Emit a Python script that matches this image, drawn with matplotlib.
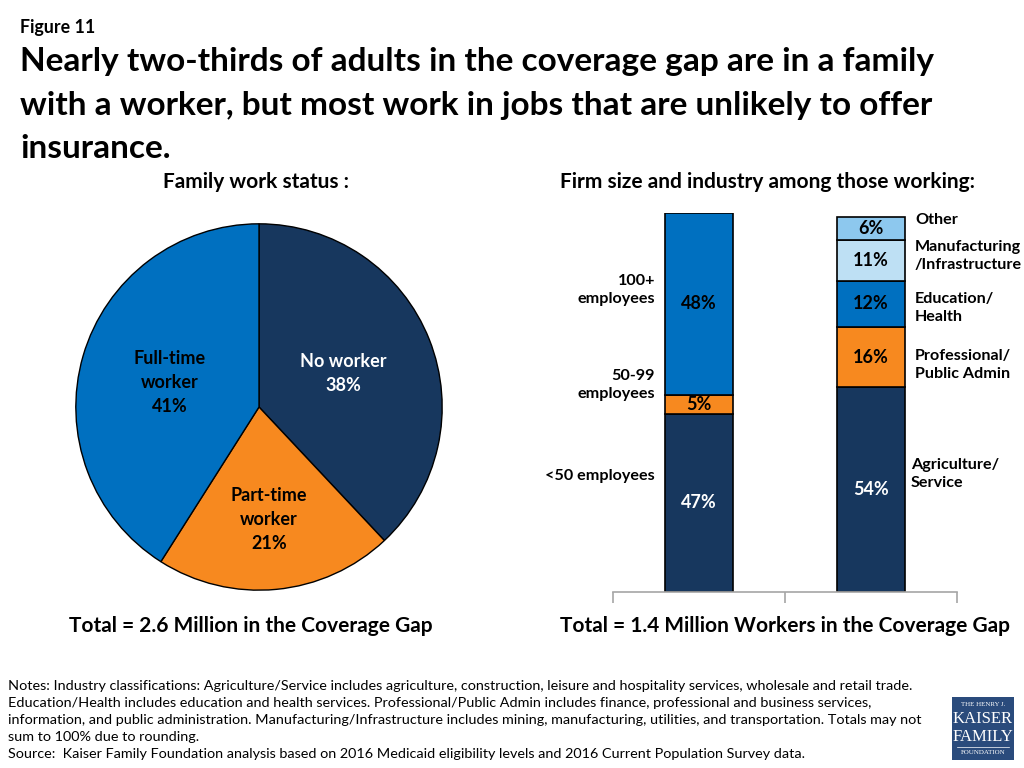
import matplotlib
matplotlib.use("Agg")
import matplotlib.pyplot as plt
from matplotlib.patches import Rectangle

plt.rcParams['font.family'] = ['Lato', 'DejaVu Sans']

# ---- data ----
pie_labels = ["No worker", "Part-time\nworker", "Full-time\nworker"]
pie_values = [38, 21, 41]

bar_categories = ["Firm size", "Industry"]
firm_labels = ["<50 employees", "50-99\nemployees", "100+\nemployees"]
firm_values = [47, 5, 48]
industry_labels = ["Agriculture/\nService", "Professional/\nPublic Admin", "Education/\nHealth",
                   "Manufacturing\n/Infrastructure", "Other"]
industry_values = [54, 16, 12, 11, 6]

NAVY = "#17375E"
BLUE = "#0070C0"
ORANGE = "#F7891F"
LIGHT = "#BEE0F4"
MID = "#8DC8EE"

W, H = 1024, 768
fig = plt.figure(figsize=(W / 100, H / 100), dpi=100)

def fx(x):
    return x / W

def fy(y):
    return 1 - y / H

# ---- titles ----
fig.text(fx(20), fy(28), "Figure 11", fontsize=12.8, fontweight='bold', va='center', ha='left')
title_lines = ["Nearly two-thirds of adults in the coverage gap are in a family",
               "with a worker, but most work in jobs that are unlikely to offer",
               "insurance."]
for i, t in enumerate(title_lines):
    fig.text(fx(20), fy(62 + 43 * i), t, fontsize=24, fontweight='bold', va='center', ha='left')

fig.text(fx(256), fy(182), "Family work status :", fontsize=15, fontweight='bold', ha='center', va='center')
fig.text(fx(768), fy(182), "Firm size and industry among those working:", fontsize=15,
         fontweight='bold', ha='center', va='center')
fig.text(fx(251), fy(626), "Total = 2.6 Million in the Coverage Gap", fontsize=15,
         fontweight='bold', ha='center', va='center')
fig.text(fx(785), fy(626), "Total = 1.4 Million Workers in the Coverage Gap", fontsize=15,
         fontweight='bold', ha='center', va='center')

# ---- pie ----
cx, cy, r = 259, 407, 185
axp = fig.add_axes([fx(cx - r), (H - (cy + r)) / H, 2 * r / W, 2 * r / H])
axp.pie(pie_values, colors=[NAVY, ORANGE, BLUE], startangle=90, counterclock=False,
        wedgeprops=dict(edgecolor='black', linewidth=1.0))
axp.set_xlim(-1.01, 1.01)
axp.set_ylim(-1.01, 1.01)
axp.set_aspect('equal')
axp.axis('off')
pie_pos = [(344, 373, 'white'), (269, 521, 'black'), (169, 382, 'black')]
for lab, val, (px, py, col) in zip(pie_labels, pie_values, pie_pos):
    axp.text((px - cx) / r, (cy - py) / r, f"{lab}\n{val}%", ha='center', va='center',
             fontsize=13, fontweight='bold', color=col, linespacing=1.5)

# ---- stacked bars ----
axb = fig.add_axes([fx(613), (H - 592) / H, 344 / W, 379 / H])
axb.set_xlim(-0.5, 1.5)
axb.set_ylim(0, 100)
bw = 68 / 172

firm_colors = [NAVY, ORANGE, BLUE]
firm_text = ['white', 'black', 'black']
bottom = 0
for lab, v, c, tc in zip(firm_labels, firm_values, firm_colors, firm_text):
    axb.bar(0, v, bw, bottom=bottom, color=c, edgecolor='black', linewidth=1.2)
    axb.text(0, bottom + v / 2, f"{v}%", ha='center', va='center', fontsize=13,
             fontweight='bold', color=tc)
    bottom += v

ind_colors = [NAVY, ORANGE, BLUE, LIGHT, MID]
ind_text = ['white', 'black', 'black', 'black', 'black']
bottom = 0
for lab, v, c, tc in zip(industry_labels, industry_values, ind_colors, ind_text):
    axb.bar(1, v, bw, bottom=bottom, color=c, edgecolor='black', linewidth=1.2)
    axb.text(1, bottom + v / 2, f"{v}%", ha='center', va='center', fontsize=13,
             fontweight='bold', color=tc)
    bottom += v

# side labels (pixel positions)
firm_label_pos = [(655, 476), (655, 385), (655, 290)]
for lab, (px, py) in zip(firm_labels, firm_label_pos):
    fig.text(fx(px), fy(py), lab, ha='right', va='center', fontsize=11.6, fontweight='bold',
             linespacing=1.45)
ind_label_pos = [(911, 474), (915, 365), (915, 308), (915, 256), (915, 220)]
for lab, (px, py) in zip(industry_labels, ind_label_pos):
    fig.text(fx(px), fy(py), lab, ha='left', va='center', fontsize=11.6, fontweight='bold',
             linespacing=1.45)

for s in ['top', 'right', 'left']:
    axb.spines[s].set_visible(False)
axb.spines['bottom'].set_color('#A6A6A6')
axb.spines['bottom'].set_linewidth(1.2)
axb.set_yticks([])
axb.set_xticks([-0.5, 0.5, 1.5])
axb.set_xticklabels([])
axb.tick_params(axis='x', direction='out', length=8, width=1.2, color='#A6A6A6')

# ---- notes ----
notes = ["Notes: Industry classifications: Agriculture/Service includes agriculture, construction, leisure and hospitality services, wholesale and retail trade.",
         "Education/Health includes education and health services. Professional/Public Admin includes finance, professional and business services,",
         "information, and public administration. Manufacturing/Infrastructure includes mining, manufacturing, utilities, and transportation. Totals may not",
         "sum to 100% due to rounding.",
         "Source:  Kaiser Family Foundation analysis based on 2016 Medicaid eligibility levels and 2016 Current Population Survey data."]
for i, t in enumerate(notes):
    fig.text(fx(8), fy(686 + 17 * i), t, fontsize=10.4, ha='left', va='center')

# ---- logo ----
lx0, ly0, lx1, ly1 = 952, 697, 1014, 760
fig.patches.append(Rectangle((fx(lx0), fy(ly1)), (lx1 - lx0) / W, (ly1 - ly0) / H,
                             transform=fig.transFigure, facecolor='#2A4B7C', edgecolor='none'))
cxl = (lx0 + lx1) / 2
fig.text(fx(cxl), fy(704), "THE HENRY J.", fontsize=5, family='Liberation Serif', color='white',
         ha='center', va='center')
fig.text(fx(cxl), fy(719), "KAISER", fontsize=12, family='Liberation Serif', color='white',
         ha='center', va='center')
fig.text(fx(cxl), fy(737), "FAMILY", fontsize=12, family='Liberation Serif', color='white',
         ha='center', va='center')
fig.add_artist(plt.Line2D([fx(957), fx(1009)], [fy(747), fy(747)], color='white', linewidth=0.5,
                          transform=fig.transFigure))
fig.text(fx(cxl), fy(753), "FOUNDATION", fontsize=5, family='Liberation Serif', color='white',
         ha='center', va='center')

fig.savefig("out.png", dpi=100)
